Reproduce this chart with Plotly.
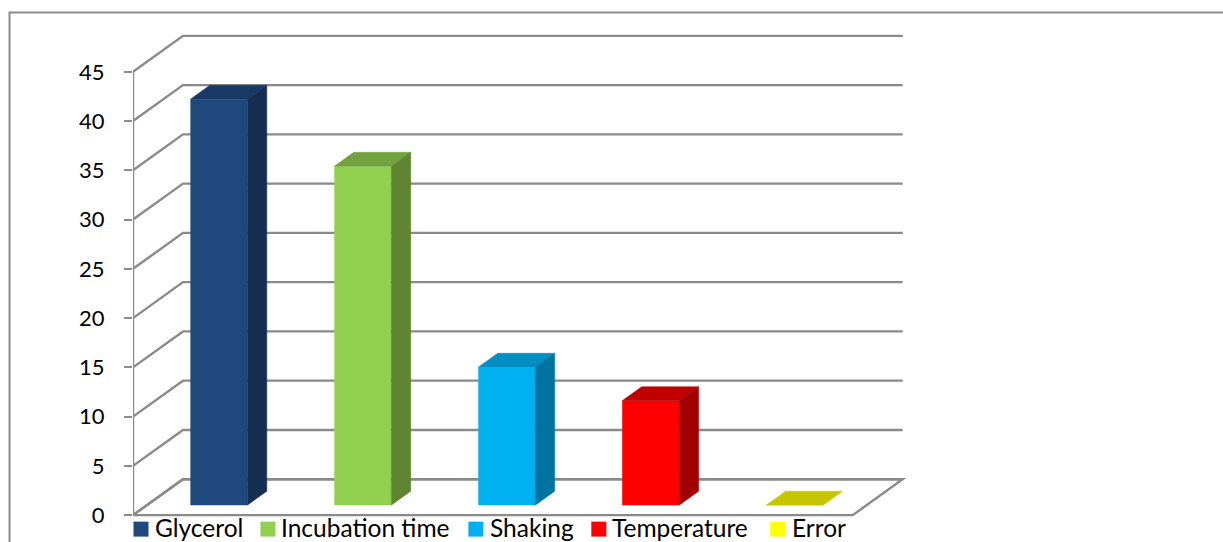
import plotly.graph_objects as go

# Data
categories = ["Glycerol", "Incubation time", "Shaking", "Temperature", "Error"]
values = [41.2, 34.4, 14.0, 10.6, 0.0]
y_ticks = [0, 5, 10, 15, 20, 25, 30, 35, 40, 45]

front_colors = ["#1F497D", "#92D050", "#00B0F0", "#FF0000", "#FFFF00"]
top_colors = ["#193A64", "#72A13F", "#008DC0", "#C00000", "#C6C600"]
side_colors = ["#152F52", "#5F8533", "#0073A0", "#A00000", "#A6A600"]

# Oblique projection of the 3-D box (category units / value units)
DX = 50 / 144
DY = 3.65
BAR_W = 57 / 144
D0, D1 = 0.278, 0.667
GRID = "#8A8A8A"
GRID_W = 2.4


def project(cat, val, depth):
    return cat + depth * DX, val + depth * DY


def poly(points, color, name):
    xs, ys = zip(*(project(*p) for p in points))
    return go.Scatter(x=list(xs) + [xs[0]], y=list(ys) + [ys[0]], mode="lines", fill="toself",
                      fillcolor=color, line=dict(color=color, width=0.5), name=name,
                      showlegend=False, hoverinfo="skip")


def wall_path(points):
    pts = [project(*p) for p in points]
    return dict(type="path", xref="x", yref="y", layer="below",
                path="M " + " L ".join(f"{a} {b}" for a, b in pts),
                line=dict(color=GRID, width=GRID_W))


fig = go.Figure()
L, R = -0.5, 4.5

# floor outline and back-wall gridlines sit below the bars
shapes = [wall_path([(L, 0, 0), (R, 0, 0), (R, 0, 1), (L, 0, 1), (L, 0, 0)])]
for t in y_ticks:
    shapes.append(wall_path([(L, t, 0), (L, t, 1), (R, t, 1)]))

# the axis line itself
fig.add_trace(go.Scatter(x=[L, L], y=[0, max(y_ticks)], mode="lines", line=dict(color=GRID, width=GRID_W),
                         showlegend=False, hoverinfo="skip", cliponaxis=False))

# bars: front face through the bar trace, top and side from the same values
for i, (name, v) in enumerate(zip(categories, values)):
    a, b = i - BAR_W / 2, i + BAR_W / 2
    fig.add_trace(poly([(a, v, D0), (b, v, D0), (b, v, D1), (a, v, D1)], top_colors[i], name + " top"))
    if v > 0:
        fig.add_trace(poly([(b, 0, D0), (b, v, D0), (b, v, D1), (b, 0, D1)], side_colors[i], name + " side"))
        x0, base = project(i, 0, D0)
        fig.add_trace(go.Bar(x=[x0], y=[v], base=[base], width=BAR_W, name=name,
                             marker=dict(color=front_colors[i], line=dict(width=0)),
                             showlegend=False))

# page geometry (pixels); ranges carry a little slack so wall lines are not clipped
W, H = 1223, 542
Y_PX = 9.867
X_PX = 144
Y_MIN, Y_MAX = -1.0, max(y_ticks) + DY + 1.0
X_MAX = R + DX + 0.03
PL = 132.5
PR = PL + (X_MAX - L) * X_PX
PB = 515.5 - Y_MIN * Y_PX
PT = 515.5 - Y_MAX * Y_PX
px = lambda v: (v - PL) / (PR - PL)
py = lambda v: (PB - v) / (PB - PT)

shapes.append(dict(type="path", xref="paper", yref="paper", layer="below",
                   path=f"M {px(9)} {py(560)} L {px(9)} {py(12)} L {px(1240)} {py(12)}",
                   line=dict(color="#8C8C8C", width=2)))
annotations = []
legend_swatch_x = [133, 260, 468, 591, 770]
legend_text_x = [153, 279, 488, 610, 790]
for i, name in enumerate(categories):
    sx = legend_swatch_x[i]
    shapes.append(dict(type="rect", xref="paper", yref="paper", x0=px(sx), x1=px(sx + 15),
                       y0=py(537), y1=py(522), fillcolor=front_colors[i], line=dict(width=0)))
    annotations.append(dict(xref="paper", yref="paper", x=px(legend_text_x[i]), y=py(528),
                            xanchor="left", yanchor="middle", showarrow=False, text=name,
                            font=dict(family="Lato, Carlito, sans-serif", size=24.5, color="#000000")))

fig.update_layout(
    width=W, height=H, autosize=False,
    margin=dict(l=PL, r=W - PR, t=PT, b=H - PB, pad=0),
    paper_bgcolor="white", plot_bgcolor="rgba(0,0,0,0)",
    showlegend=False, barmode="overlay",
    shapes=shapes, annotations=annotations,
    xaxis=dict(visible=False, range=[L, X_MAX], fixedrange=True),
    yaxis=dict(range=[Y_MIN, Y_MAX], tickmode="array", tickvals=y_ticks,
               ticktext=[str(t) for t in y_ticks], ticks="outside", ticklen=8, tickwidth=2,
               tickcolor=GRID, showgrid=False, zeroline=False, showline=False,
               ticklabelstandoff=15, tickfont=dict(family="Lato, Carlito, sans-serif", size=22, color="#000000"),
               fixedrange=True),
)

fig.write_html("out.html", config={"displayModeBar": False},
               post_script="document.body.style.margin='0';")
